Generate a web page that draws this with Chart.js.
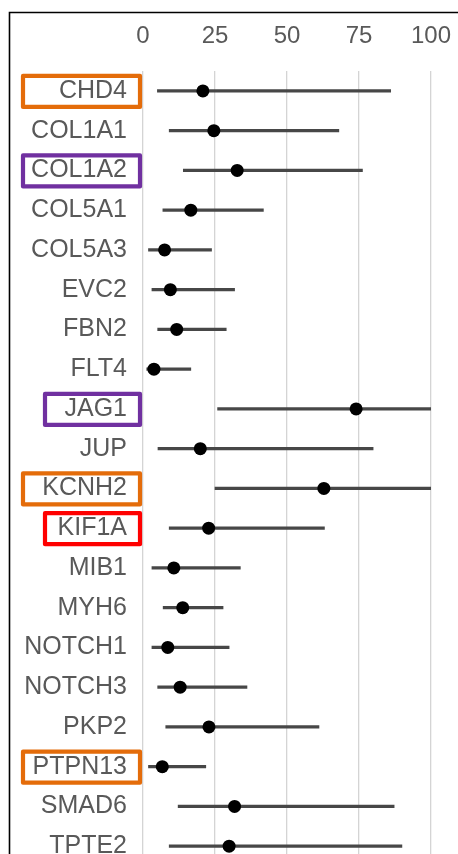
<!DOCTYPE html>
<html>
<head>
<meta charset="utf-8">
<script src="https://cdn.jsdelivr.net/npm/chart.js@4/dist/chart.umd.min.js"></script>
<style>
  html, body { margin: 0; padding: 0; background: #fff; overflow: hidden; }
  #wrap { position: absolute; left: 0; top: 0; width: 458px; height: 897px; }
</style>
</head>
<body>
<div id="wrap"><canvas id="forestChart"></canvas></div>
<script>
const genes = ['CHD4', 'COL1A1', 'COL1A2', 'COL5A1', 'COL5A3', 'EVC2', 'FBN2', 'FLT4', 'JAG1', 'JUP',
    'KCNH2', 'KIF1A', 'MIB1', 'MYH6', 'NOTCH1', 'NOTCH3', 'PKP2', 'PTPN13', 'SMAD6', 'TPTE2'];
const estimate = [20.8, 24.6, 32.7, 16.6, 7.5, 9.5, 11.7, 3.8, 74, 19.9,
    62.8, 22.8, 10.7, 13.8, 8.6, 12.9, 22.9, 6.7, 31.8, 29.9];
const lower = [5, 9.1, 14, 6.9, 1.9, 3.1, 5.1, 1.3, 25.9, 5.2,
    25, 9.1, 3.1, 7, 3.1, 5.1, 7.9, 1.9, 12.2, 9.1];
const upper = [86, 68, 76.2, 41.8, 23.8, 31.8, 28.9, 16.6, 100, 79.9,
    100, 63, 33.8, 27.8, 29.9, 36.1, 61.1, 21.8, 87.2, 89.9];
const xTicks = [0, 25, 50, 75, 100];

// labels outlined in colour
const boxedGenes = ['CHD4', 'COL1A2', 'JAG1', 'KCNH2', 'KIF1A', 'PTPN13'];
const boxColors = ['#E46C0A', '#7030A0', '#7030A0', '#E46C0A', '#FF0000', '#E46C0A'];
const boxWide = [true, true, false, true, false, true];

const labelBoxes = {
    id: 'labelBoxes',
    beforeDraw(chart) {
        const ctx = chart.ctx;
        // outer frame of the picture
        ctx.save();
        ctx.strokeStyle = '#000';
        ctx.lineWidth = 1.6;
        ctx.beginPath();
        ctx.moveTo(9.5, chart.height);
        ctx.lineTo(9.5, 12.5);
        ctx.lineTo(chart.width, 12.5);
        ctx.stroke();
        ctx.restore();
    },
    afterDraw(chart) {
        const ctx = chart.ctx;
        const yScale = chart.scales.y;
        ctx.save();
        ctx.lineWidth = 4.2;
        ctx.lineJoin = 'round';
        boxedGenes.forEach((g, i) => {
            const y = yScale.getPixelForValue(genes.indexOf(g));
            const left = boxWide[i] ? 23 : 45;
            ctx.strokeStyle = boxColors[i];
            ctx.strokeRect(left, y - 15, 140 - left, 31);
        });
        ctx.restore();
    }
};

new Chart(
    document.getElementById('forestChart'),
    {
        type: 'bar',
        data: {
            labels: genes,
            datasets: [{
                type: 'line',
                indexAxis: 'y',
                data: estimate,
                showLine: false,
                pointRadius: 6.5,
                pointBackgroundColor: '#000',
                pointBorderWidth: 0,
                order: 0
            }, {
                type: 'bar',
                indexAxis: 'y',
                data: genes.map((g, i) => [lower[i], upper[i]]),
                backgroundColor: '#474747',
                barThickness: 2.6,
                borderWidth: 0,
                order: 1
            }]
        },
        options: {
            indexAxis: 'y',
            responsive: true,
            maintainAspectRatio: false,
            animation: false,
            layout: { padding: { left: 0, top: 0, right: 27, bottom: 0 } },
            plugins: {
                legend: { display: false },
                tooltip: { enabled: false }
            },
            scales: {
                x: {
                    type: 'linear',
                    position: 'top',
                    min: 0,
                    max: 100,
                    afterBuildTicks: (scale) => { scale.ticks = xTicks.map(v => ({ value: v })); },
                    afterFit: (scale) => { scale.height = 71; scale.paddingLeft = 0; scale.paddingRight = 0; },
                    border: { display: false },
                    grid: { color: '#d4d4d4', lineWidth: 1.3, drawTicks: false },
                    ticks: {
                        padding: 20,
                        color: '#595959',
                        font: { family: 'Liberation Sans, Arial, sans-serif', size: 24 }
                    }
                },
                y: {
                    type: 'category',
                    offset: true,
                    afterFit: (scale) => { scale.width = 143; },
                    border: { display: false },
                    grid: { display: false, drawTicks: false },
                    ticks: {
                        padding: 16,
                        color: '#595959',
                        autoSkip: false,
                        font: { family: 'Liberation Sans, Arial, sans-serif', size: 25 }
                    }
                }
            }
        },
        plugins: [labelBoxes]
    }
);
</script>
</body>
</html>
